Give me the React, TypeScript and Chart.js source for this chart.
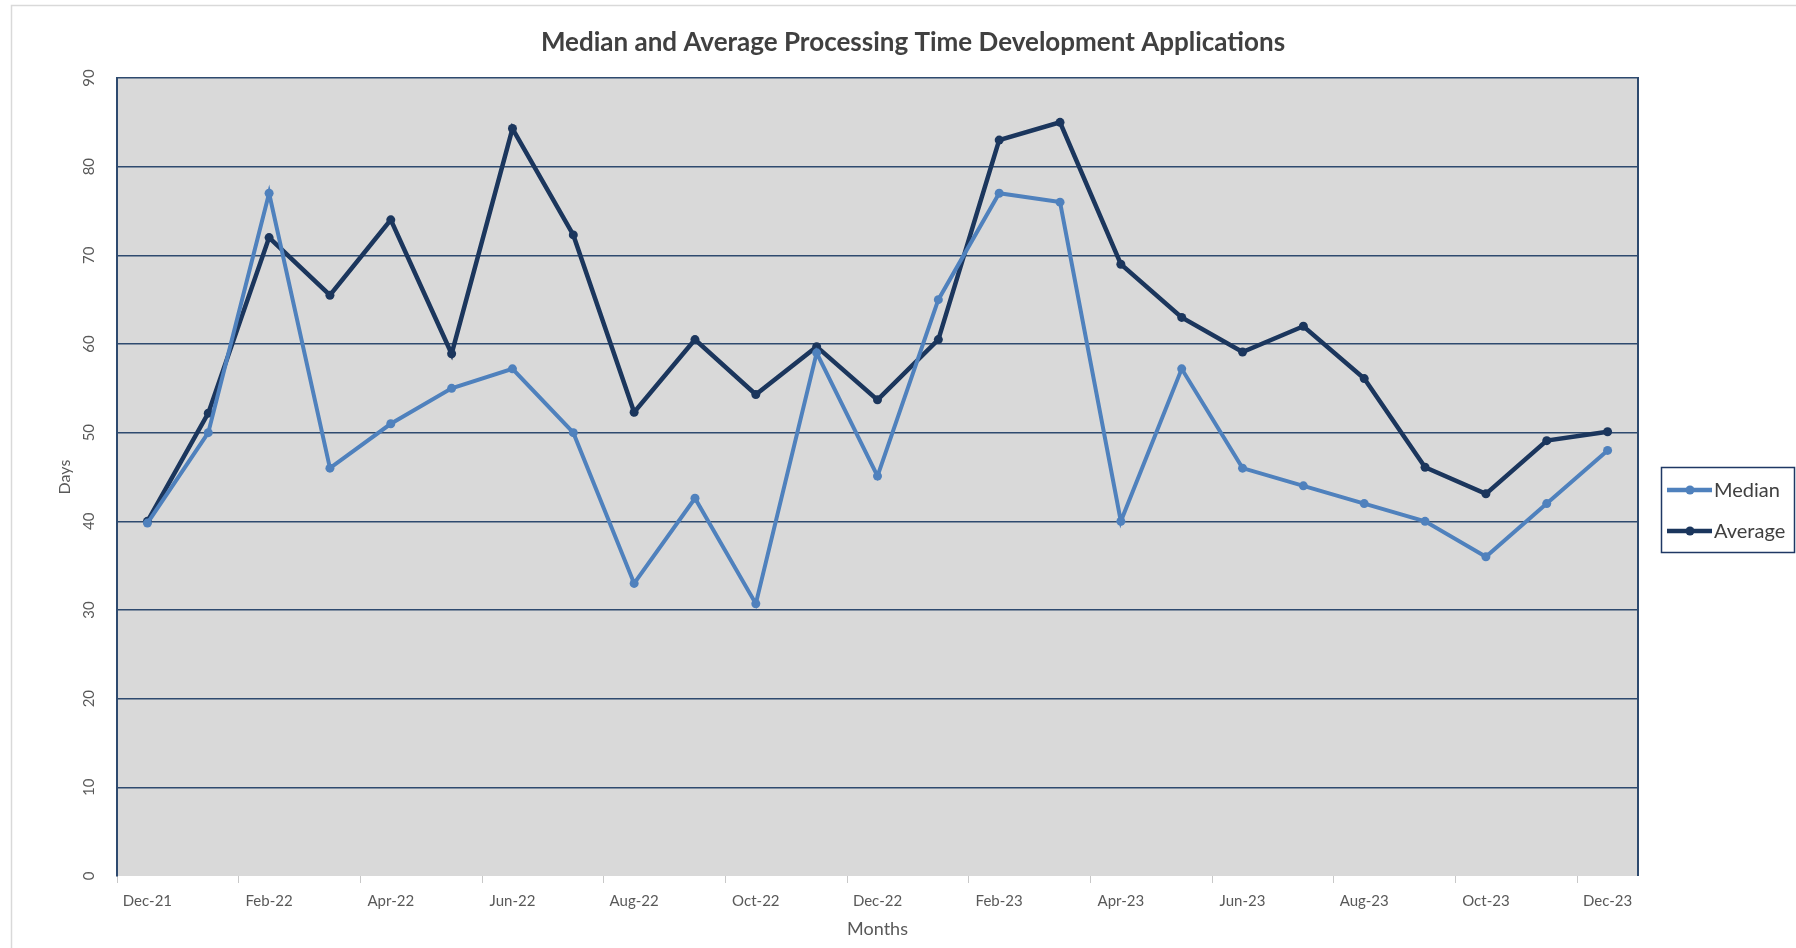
import React, { useEffect, useRef } from 'react';
import { Chart, registerables } from 'chart.js';

Chart.register(...registerables);

const months = [
  'Dec-21', 'Jan-22', 'Feb-22', 'Mar-22', 'Apr-22', 'May-22', 'Jun-22', 'Jul-22', 'Aug-22',
  'Sep-22', 'Oct-22', 'Nov-22', 'Dec-22', 'Jan-23', 'Feb-23', 'Mar-23', 'Apr-23', 'May-23',
  'Jun-23', 'Jul-23', 'Aug-23', 'Sep-23', 'Oct-23', 'Nov-23', 'Dec-23',
];

const medianDays = [
  39.8, 50, 77, 46, 51, 55, 57.2, 50, 33, 42.6, 30.7, 59, 45.1, 65, 77, 76, 40, 57.2, 46, 44, 42, 40, 36, 42, 48,
];

const averageDays = [
  40, 52.2, 72, 65.5, 74, 58.9, 84.3, 72.3, 52.3, 60.5, 54.3, 59.7, 53.7, 60.5, 83, 85, 69, 63, 59.1, 62, 56.1, 46.1,
  43.1, 49.1, 50.1,
];

const yMin = 0;
const yMax = 90;
const yStep = 10;

const titleText = 'Median and Average Processing Time Development Applications';
const seriesNames = ['Median', 'Average'];
const seriesColors = ['#4F81BD', '#1B365D'];

const FONT = "Lato, 'Open Sans', sans-serif";
const NAVY = '#2E4A6F';
const TEXT = '#595959';

const framePlugin = {
  id: 'frame',
  beforeDraw(chart: any) {
    const { ctx, chartArea } = chart;
    ctx.save();
    ctx.fillStyle = '#FFFFFF';
    ctx.fillRect(0, 0, chart.width, chart.height);
    ctx.strokeStyle = '#D9D9D9';
    ctx.lineWidth = 1.5;
    ctx.strokeRect(11.5, 5.5, chart.width + 20, chart.height + 20);
    ctx.fillStyle = '#D9D9D9';
    ctx.fillRect(chartArea.left, chartArea.top, chartArea.right - chartArea.left, chartArea.bottom - chartArea.top);
    ctx.restore();
  },
  beforeDatasetsDraw(chart: any) {
    const { ctx, chartArea } = chart;
    ctx.save();
    ctx.strokeStyle = NAVY;
    ctx.lineWidth = 2;
    ctx.beginPath();
    ctx.moveTo(chartArea.right, chartArea.top - 1);
    ctx.lineTo(chartArea.right, chartArea.bottom);
    ctx.stroke();
    ctx.restore();
  },
  afterDraw(chart: any) {
    const { ctx, chartArea } = chart;
    ctx.save();
    // title
    ctx.fillStyle = '#404040';
    ctx.font = `bold 26px ${FONT}`;
    ctx.textAlign = 'center';
    ctx.textBaseline = 'middle';
    ctx.fillText(titleText, 913, 43);

    // legend
    const bx = chartArea.right + 23;
    const by = 467;
    const bw = 133;
    const bh = 85;
    ctx.strokeStyle = '#1F3864';
    ctx.lineWidth = 1.5;
    ctx.strokeRect(bx + 0.5, by + 0.5, bw, bh);
    ctx.font = `20px ${FONT}`;
    ctx.textAlign = 'left';
    const rows = [490, 531];
    seriesNames.forEach((name, i) => {
      const y = rows[i];
      ctx.strokeStyle = seriesColors[i];
      ctx.lineWidth = 4.5;
      ctx.beginPath();
      ctx.moveTo(bx + 6, y);
      ctx.lineTo(bx + 51, y);
      ctx.stroke();
      ctx.fillStyle = seriesColors[i];
      ctx.beginPath();
      ctx.arc(bx + 29, y, 4.5, 0, Math.PI * 2);
      ctx.fill();
      ctx.fillStyle = '#404040';
      ctx.fillText(name, bx + 53, y + 1);
    });
    ctx.restore();
  },
};

export default function App() {
  const canvasRef = useRef<HTMLCanvasElement | null>(null);

  useEffect(() => {
    const canvas = canvasRef.current;
    if (!canvas) return;
    const chart = new Chart(canvas, {
      type: 'line',
      data: {
        labels: months,
        datasets: [
          {
            label: seriesNames[0],
            data: medianDays,
            borderColor: seriesColors[0],
            backgroundColor: seriesColors[0],
            borderWidth: 4,
            pointRadius: 4.5,
            pointBorderWidth: 0,
            pointBackgroundColor: seriesColors[0],
            tension: 0,
          },
          {
            label: seriesNames[1],
            data: averageDays,
            borderColor: seriesColors[1],
            backgroundColor: seriesColors[1],
            borderWidth: 4.5,
            pointRadius: 4.5,
            pointBorderWidth: 0,
            pointBackgroundColor: seriesColors[1],
            tension: 0,
          },
        ],
      },
      options: {
        responsive: false,
        animation: false,
        devicePixelRatio: 1,
        layout: { padding: { top: 78, right: 158, bottom: 0, left: 0 } },
        plugins: {
          legend: { display: false },
          title: { display: false },
          tooltip: { enabled: false },
        },
        scales: {
          x: {
            offset: true,
            grid: {
              offset: true,
              drawOnChartArea: false,
              tickLength: 7,
              lineWidth: 1,
              tickColor: (ctx: any) => (ctx.index % 2 === 0 ? '#C8C8C8' : 'rgba(0,0,0,0)'),
              color: 'rgba(0,0,0,0)',
            },
            border: { display: false },
            ticks: {
              autoSkip: false,
              minRotation: 0,
              maxRotation: 0,
              padding: 9,
              color: TEXT,
              font: { family: FONT, size: 15 },
              callback: (_v: any, i: number) => (i % 2 === 0 ? months[i] : ''),
            },
            title: {
              display: true,
              text: 'Months',
              color: TEXT,
              font: { family: FONT, size: 18 },
              padding: { top: 0, bottom: 8 },
            },
            afterFit: (s: any) => {
              s.height = 72;
            },
          },
          y: {
            min: yMin,
            max: yMax,
            ticks: {
              stepSize: yStep,
              minRotation: 90,
              maxRotation: 90,
              crossAlign: 'center',
              padding: 19,
              color: TEXT,
              font: { family: FONT, size: 15 },
            },
            grid: {
              drawTicks: false,
              lineWidth: 1.6,
              color: (ctx: any) => (ctx.tick && ctx.tick.value === 0 ? 'rgba(0,0,0,0)' : NAVY),
            },
            border: { display: true, color: NAVY, width: 2 },
            title: {
              display: true,
              text: 'Days',
              color: TEXT,
              font: { family: FONT, size: 16 },
              padding: { top: 55, bottom: 0 },
            },
            afterFit: (s: any) => {
              s.width = 117;
            },
          },
        },
      } as any,
      plugins: [framePlugin],
    });
    return () => chart.destroy();
  }, []);

  return (
    <div style={{ position: 'fixed', left: 0, top: 0, width: 1796, height: 948, overflow: 'hidden', background: '#fff' }}>
      <canvas ref={canvasRef} width={1796} height={948} style={{ display: 'block', width: 1796, height: 948 }} />
    </div>
  );
}
